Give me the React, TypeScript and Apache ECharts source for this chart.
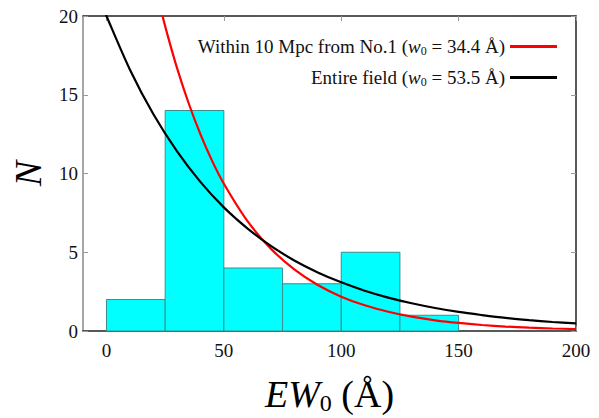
import React, { useEffect, useRef } from "react";
import * as echarts from "echarts";

const binStarts = [0, 25, 50, 75, 100, 125];
const binEnds = [25, 50, 75, 100, 125, 150];
const binCounts = [2, 14, 4, 3, 5, 1];

const xTicks = [0, 50, 100, 150, 200];

// Entire field curve
const blackX = [-1, 0, 10, 20, 30, 40, 50, 60, 70, 80, 90, 100, 110, 120, 130, 140, 150, 160, 170, 180, 190, 200];
const blackY = [20.4, 20, 16.59, 13.76, 11.42, 9.47, 7.85, 6.52, 5.4, 4.48, 3.72, 3.09, 2.56, 2.12, 1.76, 1.46, 1.21, 1.01, 0.83, 0.69, 0.57, 0.48];

// Within 10 Mpc curve
const redX = [23, 26, 30, 35, 40, 45, 50, 60, 70, 80, 90, 100, 110, 120, 130, 140, 150, 160, 170, 180, 190, 200];
const redY = [20.5, 18.8, 16.72, 14.46, 12.5, 10.8, 9.35, 6.99, 5.23, 3.91, 2.92, 2.18, 1.63, 1.22, 0.91, 0.68, 0.51, 0.38, 0.28, 0.21, 0.16, 0.12];

const FONT = "Liberation Serif";

export default function App() {
  const ref = useRef<HTMLDivElement>(null);
  useEffect(() => {
    const chart = echarts.init(ref.current!, null, { renderer: "svg" });
    const rich = {
      n: { fontFamily: FONT, fontSize: 19, color: "#111" },
      i: { fontFamily: FONT, fontSize: 19, fontStyle: "italic", color: "#111" },
      s: { fontFamily: FONT, fontSize: 12, color: "#111", padding: [9, 0, 0, 0] },
    };
    const hist = binStarts.map((s, i) => [s, binEnds[i], binCounts[i]]);
    chart.setOption({
      animation: false,
      textStyle: { fontFamily: FONT },
      grid: { left: 83, right: 23, top: 16, bottom: 87, show: false, containLabel: false, outerBoundsMode: "none" },
      legend: {
        data: [
          { name: "red", icon: "rect" },
          { name: "black", icon: "rect" },
        ],
        orient: "vertical",
        right: 37,
        top: 32,
        align: "right",
        itemWidth: 47,
        itemHeight: 3,
        itemGap: 11,
        formatter: (name: string) =>
          name === "red"
            ? "{n|Within 10 Mpc from No.1 (}{i|w}{s|0}{n| = 34.4 Å)}"
            : "{n|Entire field (}{i|w}{s|0}{n| = 53.5 Å)}",
        textStyle: { fontFamily: FONT, fontSize: 19, rich },
      },
      xAxis: [
        {
          type: "value",
          min: -10,
          max: 200,
          position: "bottom",
          splitLine: { show: false },
          axisLine: { show: true, onZero: false, lineStyle: { color: "#222", width: 1.5 } },
          axisTick: { show: true, inside: true, length: 5, lineStyle: { color: "#999" }, customValues: xTicks },
          axisLabel: { fontFamily: FONT, fontSize: 19, color: "#111", margin: 10, customValues: xTicks },
          name: "{i|EW}{s|0}{n| (Å)}",
          nameLocation: "middle",
          nameGap: 42,
          nameTextStyle: {
            rich: {
              i: { fontFamily: FONT, fontSize: 38, fontStyle: "italic", color: "#000" },
              s: { fontFamily: FONT, fontSize: 24, color: "#000", padding: [18, 0, 0, 0] },
              n: { fontFamily: FONT, fontSize: 38, color: "#000" },
            },
          },
        },
        {
          type: "value",
          min: -10,
          max: 200,
          position: "top",
          splitLine: { show: false },
          axisLine: { show: true, onZero: false, lineStyle: { color: "#222", width: 1.5 } },
          axisTick: { show: true, inside: true, length: 5, lineStyle: { color: "#999" }, customValues: xTicks },
          axisLabel: { show: false },
        },
      ],
      yAxis: [
        {
          type: "value",
          min: 0,
          max: 20,
          interval: 5,
          position: "left",
          splitLine: { show: false },
          axisLine: { show: true, onZero: false, lineStyle: { color: "#888", width: 1.5 } },
          axisTick: { show: true, inside: true, length: 5, lineStyle: { color: "#999" } },
          axisLabel: { fontFamily: FONT, fontSize: 19, color: "#111", margin: 5 },
          name: "N",
          nameLocation: "middle",
          nameRotate: 90,
          nameGap: 36,
          nameTextStyle: { fontFamily: FONT, fontSize: 38, fontStyle: "italic", color: "#000" },
        },
        {
          type: "value",
          min: 0,
          max: 20,
          interval: 5,
          position: "right",
          splitLine: { show: false },
          axisLine: { show: true, onZero: false, lineStyle: { color: "#222", width: 1.5 } },
          axisTick: { show: true, inside: true, length: 5, lineStyle: { color: "#999" } },
          axisLabel: { show: false },
        },
      ],
      series: [
        {
          type: "custom",
          name: "hist",
          xAxisIndex: 0,
          yAxisIndex: 0,
          data: hist,
          encode: { x: [0, 1], y: 2 },
          renderItem: (params: any, api: any) => {
            const p0 = api.coord([api.value(0), api.value(2)]);
            const p1 = api.coord([api.value(1), 0]);
            return {
              type: "rect",
              shape: { x: p0[0], y: p0[1], width: p1[0] - p0[0], height: p1[1] - p0[1] },
              style: { fill: "#00ffff", stroke: "#3b8f8f", lineWidth: 1 },
            };
          },
          z: 1,
        },
        {
          type: "line",
          name: "red",
          data: redX.map((x, i) => [x, redY[i]]),
          showSymbol: false,
          symbol: "none",
          smooth: 0.3,
          clip: true,
          lineStyle: { color: "#ff0000", width: 2.2 },
          itemStyle: { color: "#ff0000" },
          z: 3,
        },
        {
          type: "line",
          name: "black",
          data: blackX.map((x, i) => [x, blackY[i]]),
          showSymbol: false,
          symbol: "none",
          smooth: 0.3,
          clip: true,
          lineStyle: { color: "#000", width: 2.2 },
          itemStyle: { color: "#000" },
          z: 3,
        },
      ],
    });
    return () => chart.dispose();
  }, []);
  return <div ref={ref} style={{ width: 599, height: 418, position: "absolute", left: 0, top: 0 }} />;
}
